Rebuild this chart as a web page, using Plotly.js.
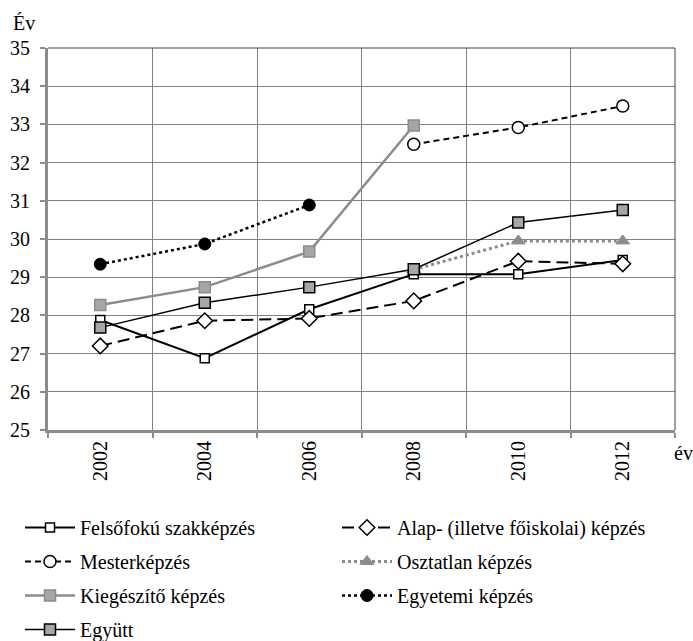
<!DOCTYPE html>
<html>
<head>
<meta charset="utf-8">
<script src="https://cdn.plot.ly/plotly-3.0.1.min.js"></script>
<style>html,body{margin:0;padding:0;background:#fff;}#chart{width:693px;height:641px;}</style>
</head>
<body>
<div id="chart"></div>
<script>
const years = ["2002", "2004", "2006", "2008", "2010", "2012"];
const felsofoku = [27.88, 26.88, 28.16, 29.08, 29.08, 29.45];
const alap = [27.20, 27.86, 27.92, 28.38, 29.42, 29.35];
const mester = [null, null, null, 32.48, 32.92, 33.48];
const osztatlan = [null, null, null, 29.20, 29.95, 29.95];
const kiegeszito = [28.27, 28.74, 29.67, 32.97, null, null];
const egyetemi = [29.34, 29.87, 30.89, null, null, null];
const egyutt = [27.68, 28.33, 28.74, 29.21, 30.43, 30.76];

const names = ["Felsőfokú szakképzés", "Alap- (illetve főiskolai) képzés", "Mesterképzés",
  "Osztatlan képzés", "Kiegészítő képzés", "Egyetemi képzés", "Együtt"];

const FONT = "Liberation Serif, Times New Roman, serif";
const FS = 20;

// plot area geometry (px)
const W = 693, H = 641, ML = 48, MR = 18, MT = 48, MB = 211;
const PW = W - ML - MR, PH = H - MT - MB;
const px2x = px => (px - ML) / PW;
const px2y = py => (H - MB - py) / PH;

function tr(name, y, line, marker, legend) {
  return {type: "scatter", mode: "lines+markers", x: years, y: y, name: name,
    connectgaps: false, line: line, marker: marker, cliponaxis: false, legend: legend};
}

const data = [
  tr(names[0], felsofoku, {color: "#000", width: 2}, {symbol: "square", size: 9, color: "#fff", line: {color: "#000", width: 1.5}}, "legend"),
  tr(names[1], alap, {color: "#000", width: 2, dash: "12px,6px"}, {symbol: "diamond", size: 12, color: "#fff", line: {color: "#000", width: 1.5}}, "legend"),
  tr(names[2], mester, {color: "#000", width: 2, dash: "6px,4px"}, {symbol: "circle", size: 12, color: "#fff", line: {color: "#000", width: 1.5}}, "legend2"),
  tr(names[3], osztatlan, {color: "#8c8c8c", width: 3, dash: "dot"}, {symbol: "triangle-up", size: 12, color: "#8c8c8c", line: {color: "#8c8c8c", width: 1}}, "legend2"),
  tr(names[4], kiegeszito, {color: "#8c8c8c", width: 2.5}, {symbol: "square", size: 11, color: "#a6a6a6", line: {color: "#8c8c8c", width: 1.5}}, "legend3"),
  tr(names[5], egyetemi, {color: "#000", width: 2.5, dash: "dot"}, {symbol: "circle", size: 12, color: "#000", line: {color: "#000", width: 1}}, "legend3"),
  tr(names[6], egyutt, {color: "#000", width: 1.5}, {symbol: "square", size: 11, color: "#a6a6a6", line: {color: "#000", width: 1.5}}, "legend4")
];

function leg(topPx) {
  return {
    orientation: "h", xref: "paper", yref: "paper",
    x: px2x(20), y: px2y(topPx), xanchor: "left", yanchor: "top",
    entrywidth: 252, entrywidthmode: "pixels", itemwidth: 50,
    font: {family: FONT, size: FS, color: "#000"},
    traceorder: "normal", bgcolor: "rgba(0,0,0,0)", borderwidth: 0
  };
}

const layout = {
  width: W, height: H,
  margin: {l: ML, r: MR, t: MT, b: MB, autoexpand: false},
  paper_bgcolor: "#fff", plot_bgcolor: "#fff",
  font: {family: FONT, size: FS, color: "#000"},
  showlegend: true,
  legend: leg(508), legend2: leg(542), legend3: leg(576), legend4: leg(610),
  xaxis: {
    type: "category", categoryorder: "array", categoryarray: years,
    range: [-0.5, 5.5], tickson: "boundaries",
    showgrid: true, gridcolor: "#808080", gridwidth: 1,
    showline: true, linecolor: "#8c8c8c", linewidth: 3,
    ticks: "outside", ticklen: 5, tickwidth: 2, tickcolor: "#8c8c8c",
    tickangle: -90, tickfont: {family: FONT, size: FS, color: "#000"},
    zeroline: false, fixedrange: true
  },
  yaxis: {
    range: [25, 35], dtick: 1, tick0: 25,
    showgrid: true, gridcolor: "#808080", gridwidth: 1,
    showline: true, linecolor: "#8c8c8c", linewidth: 3,
    ticks: "outside", ticklen: 5, tickwidth: 2, tickcolor: "#8c8c8c", ticklabelstandoff: 6,
    tickfont: {family: FONT, size: FS, color: "#000"},
    zeroline: false, fixedrange: true
  },
  shapes: [
    {type: "line", xref: "paper", yref: "paper", x0: 0, x1: 1, y0: 1, y1: 1, line: {color: "#404040", width: 1}},
    {type: "line", xref: "paper", yref: "paper", x0: 1, x1: 1, y0: 0, y1: 1, line: {color: "#404040", width: 1}}
  ],
  annotations: [
    {text: "Év", xref: "paper", yref: "paper", x: px2x(11), y: px2y(23),
      xanchor: "left", yanchor: "middle", showarrow: false, font: {family: FONT, size: FS, color: "#000"}},
    {text: "év", xref: "paper", yref: "paper", x: px2x(672), y: px2y(453),
      xanchor: "left", yanchor: "middle", showarrow: false, font: {family: FONT, size: FS, color: "#000"}}
  ]
};

Plotly.newPlot("chart", data, layout, {displayModeBar: false, staticPlot: true});
</script>
</body>
</html>
